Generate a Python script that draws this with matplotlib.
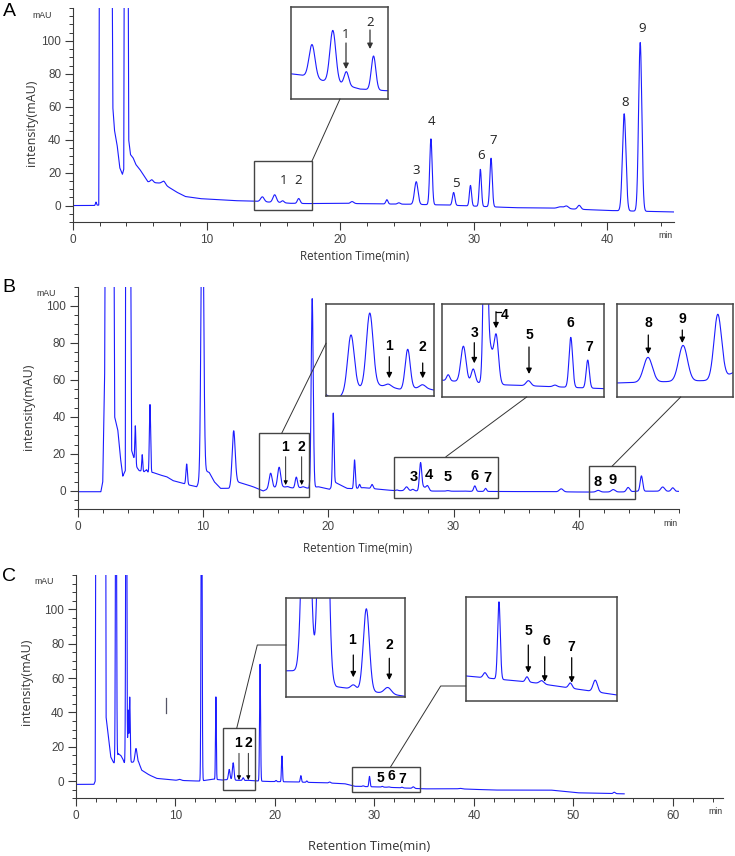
import numpy as np
import matplotlib
matplotlib.use('Agg')
import matplotlib.pyplot as plt
from matplotlib.patches import Rectangle, FancyArrowPatch
from matplotlib.lines import Line2D
from matplotlib.ticker import MultipleLocator

plt.rcParams['font.family'] = ['Liberation Sans', 'DejaVu Sans']

# ---------------- data ----------------
# Panel A: baseline envelope knots (min, mAU) and peak table (time, height, width)
A_base_t = [0, 1.6, 1.93, 2.02, 2.85, 2.98, 3.1, 3.3, 3.5, 3.7, 3.8, 3.88, 4.08, 4.17, 4.3, 4.5,
            4.7, 5.0, 5.4, 5.6, 6.2, 6.6, 7.1, 7.4, 7.8, 8.4, 9.5, 12.0, 13.25, 14.0, 14.65, 15.5,
            16.3, 17.5, 20.0, 25.0, 28.0, 33.0, 36.0, 40.0, 45.0]
A_base_v = [0, 0, 0.3, 300, 300, 60, 46, 37, 23, 19, 22, 300, 300, 40, 31, 29,
            25, 22, 17, 14.5, 13.8, 13.6, 11.5, 10, 8, 5.5, 4.2, 3.0, 2.7, 2.5, 2.1, 1.8,
            1.35, 1.2, 1.3, 0.8, 0.3, -1.3, -1.6, -3.0, -3.9]
A_peak_t = [1.72, 5.9, 6.8, 14.18, 15.1, 15.7, 16.9, 20.9, 23.5, 24.4, 25.7, 26.8, 28.5,
            29.76, 30.5, 31.3, 36.5, 36.95, 37.9, 41.27, 42.47]
A_peak_h = [2.0, 1.5, 2.0, 2.9, 4.6, 1.2, 3.0, 1.2, 2.6, 0.8, 13.8, 40.0, 7.8,
            12.5, 22.5, 29.5, 1.0, 1.6, 2.4, 59.0, 102.5]
A_peak_w = [0.04, 0.1, 0.12, 0.13, 0.13, 0.1, 0.1, 0.12, 0.08, 0.1, 0.13, 0.09, 0.09,
            0.08, 0.08, 0.09, 0.2, 0.15, 0.12, 0.13, 0.12]

# Panel B
B_base_t = [0, 1.85, 2.0, 2.15, 2.28, 2.8, 2.95, 3.2, 3.4, 3.6, 3.8, 3.86, 4.12, 4.3, 4.45,
            4.7, 4.9, 5.3, 5.5, 5.65, 6.0, 6.6, 7.1, 7.6, 8.4, 8.9, 9.5, 10.15, 10.5, 10.9,
            11.4, 12.1, 12.7, 13.2, 14.0, 14.8, 15.1, 15.7, 16.4, 16.9, 17.2, 17.7, 18.1,
            18.4, 19.2, 20.1, 20.6, 20.9, 21.5, 22.0, 22.8, 24.1, 25.2, 26.0, 28.3, 33.5,
            38.0, 40.5, 44.0, 44.5, 45.5, 48.0]
B_base_v = [-0.4, -0.4, 5, 60, 300, 300, 40, 33, 18.5, 8, 11, 300, 300, 22, 18.5,
            13, 11, 10.4, 11.5, 9.5, 10, 8.6, 7.7, 5.6, 4.1, 3.2, 2.3, 11, 10, 5,
            1.4, 1.4, 5, 4, 2.3, 0.0, 0.8, 1.8, 2.2, 1.9, 1.6, 1.8, 1.8,
            1.5, 2.3, 0.9, 4.5, 3.5, 1.4, 1.2, 1.8, 0.9, 0.22, 0.15, -0.05, -0.28,
            -0.4, -0.6, -0.5, -0.2, -0.1, -0.2]
B_peak_t = [4.6, 5.15, 5.77, 8.7, 9.95, 12.45, 15.4, 16.08, 16.75, 17.45, 17.98, 18.72,
            20.4, 22.1, 22.5, 23.5, 25.48, 26.25, 26.75, 27.37, 27.6, 27.91, 29.55, 30.9,
            31.7, 32.56, 38.6, 41.55, 42.75, 43.94, 45.0, 46.7, 47.5]
B_peak_h = [20, 9, 37, 11, 170, 29, 8.3, 10.8, 0.4, 5.8, 0.5, 102,
            39, 15.5, 2, 2.2, 0.35, 2.1, 0.8, 15.0, 2.0, 2.9, 0.3, 0.1,
            2.95, 1.65, 1.6, 0.9, 1.3, 2.4, 8.3, 2.3, 1.9]
B_peak_w = [0.04, 0.04, 0.05, 0.06, 0.1, 0.12, 0.12, 0.12, 0.1, 0.09, 0.1, 0.08,
            0.06, 0.06, 0.06, 0.08, 0.08, 0.13, 0.1, 0.09, 0.12, 0.12, 0.12, 0.1,
            0.09, 0.08, 0.15, 0.15, 0.15, 0.13, 0.1, 0.15, 0.12]

# Panel C
C_base_t = [0, 1.8, 1.93, 2.03, 2.95, 3.02, 3.25, 3.5, 3.75, 3.92, 4.25, 4.5, 4.7, 4.85,
            5.6, 5.8, 6.3, 6.6, 7.1, 7.4, 8.1, 10.0, 12.5, 13.8, 14.7, 14.9, 15.6, 16.1,
            17.7, 18.2, 19.2, 22.0, 25.0, 27.0, 28.0, 31.0, 35.0, 38.6, 42.0, 47.7, 50.4, 55.1]
C_base_v = [-1.9, -1.9, 0, 300, 300, 37.5, 26, 14, 11, 10, 16, 15, 13, 10.7,
            11, 11, 11, 6.4, 4.5, 3.5, 1.6, 0.5, 0.0, 1.2, 0.6, 0.8, 0.8, 0.5,
            0.32, 0.1, -0.2, -0.5, -1.0, -1.5, -3.0, -3.5, -4.5, -4.5, -5.2, -5.2, -6.8, -7.4]
C_peak_t = [4.02, 5.05, 5.25, 5.4, 6.03, 10.4, 12.62, 14.06, 15.4, 15.8, 16.5, 16.8, 17.3,
            18.5, 20.1, 20.7, 22.6, 23.2, 25.5, 28.86, 29.5, 30.78, 31.45, 32.76, 33.9,
            38.6, 54.1]
C_peak_h = [250, 250, 30, 38, 8, 0.6, 220, 48, 6, 10, 0.08, 1.55, 0.12,
            68, 0.7, 15, 3.8, 0.8, 0.6, 0.4, 6.0, 0.4, 0.25, 0.4, 0.9,
            0.3, 0.8]
C_peak_w = [0.05, 0.05, 0.04, 0.05, 0.1, 0.15, 0.05, 0.04, 0.08, 0.08, 0.06, 0.07, 0.08,
            0.05, 0.06, 0.05, 0.06, 0.06, 0.1, 0.08, 0.06, 0.07, 0.1, 0.08, 0.1,
            0.15, 0.1]

Y_TICKS = [0, 20, 40, 60, 80, 100]
A_XTICKS = [0, 10, 20, 30, 40]
B_XTICKS = [0, 10, 20, 30, 40]
C_XTICKS = [0, 10, 20, 30, 40, 50, 60]

# ---------------- helpers ----------------
W, H = 735, 856
fig = plt.figure(figsize=(W / 100, H / 100), dpi=100)
BLUE = '#1c1cff'
DARK = '#3a3a3a'


def fp(x, y):
    return (x / W, 1 - y / H)


def rect(l, t, r, b):
    return [l / W, 1 - b / H, (r - l) / W, (b - t) / H]


def build(bt, bv, pt, ph, pw, t_end):
    t = np.arange(0, t_end, 0.004)
    y = np.interp(t, bt, bv)
    for c, h, w in zip(pt, ph, pw):
        y = y + h * np.exp(-0.5 * ((t - c) / w) ** 2)
    return t, y


def main_axes(r, xmax, ymin, ymax, xticks):
    ax = fig.add_axes(r)
    ax.set_xlim(0, xmax)
    ax.set_ylim(ymin, ymax)
    for s in ['top', 'right']:
        ax.spines[s].set_visible(False)
    for s in ['left', 'bottom']:
        ax.spines[s].set_color(DARK)
        ax.spines[s].set_linewidth(0.8)
    ax.set_xticks(xticks)
    ax.set_yticks(Y_TICKS)
    ax.xaxis.set_minor_locator(MultipleLocator(2))
    ax.yaxis.set_minor_locator(MultipleLocator(5))
    ax.tick_params(which='major', length=6, width=0.8, color=DARK, labelsize=8.5,
                   labelcolor='#444444', pad=2.5)
    ax.tick_params(which='minor', length=3, width=0.7, color=DARK)
    ax.patch.set_alpha(0)
    return ax


def inset(r, t, y, xl, yl):
    ax = fig.add_axes(r)
    ax.plot(t, y, color=BLUE, lw=0.8)
    ax.set_xlim(xl)
    ax.set_ylim(yl)
    ax.set_xticks([])
    ax.set_yticks([])
    for s in ax.spines.values():
        s.set_color('#444444')
        s.set_linewidth(1.1)
    return ax


def region(l, t, r, b):
    fig.add_artist(Rectangle(fp(l, b), (r - l) / W, (b - t) / H, transform=fig.transFigure,
                             fill=False, ec='#444444', lw=1.0))


def connector(xs, ys):
    fig.add_artist(Line2D([x / W for x in xs], [1 - y / H for y in ys],
                          transform=fig.transFigure, color='#333333', lw=0.7))


def arrow(x, y0, y1, lw=0.9, ms=8, color='black'):
    fig.add_artist(FancyArrowPatch(fp(x, y0), fp(x, y1), transform=fig.transFigure,
                                   arrowstyle='-|>', mutation_scale=ms, lw=lw, color=color,
                                   shrinkA=0, shrinkB=0))


def label(x, y, s, size=10, bold=True, color='black', family=None):
    kw = {}
    if family:
        kw['family'] = family
    fig.text(x / W, 1 - y / H, s, ha='center', va='center', fontsize=size,
             fontweight='bold' if bold else 'normal', color=color, **kw)


def panel_text(letter, lx, ly, mx, my, minx, miny, ylx, yly, xlx, xly, xlsize):
    label(lx, ly, letter, size=14, bold=False, color='black')
    label(mx, my, 'mAU', size=6.3, bold=False, color='#333333')
    label(minx, miny, 'min', size=6.3, bold=False, color='#333333')
    fig.text(ylx / W, 1 - yly / H, 'intensity(mAU)', rotation=90, ha='center', va='center',
             fontsize=9, family=['Open Sans', 'DejaVu Sans'], color='#333333')
    fig.text(xlx / W, 1 - xly / H, 'Retention Time(min)', ha='center', va='center',
             fontsize=xlsize, family=['Open Sans', 'DejaVu Sans'], color='#333333')


# ---------------- Panel A ----------------
tA, yA = build(A_base_t, A_base_v, A_peak_t, A_peak_h, A_peak_w, 45.0)
axA = main_axes(rect(73, 8, 674, 222), 45, -10, 120, A_XTICKS)
axA.plot(tA, yA, color=BLUE, lw=0.8)
panel_text('A', 9, 12, 42.5, 15, 665.5, 235, 31.7, 123, 355, 257, 8.3)
region(254, 161, 312, 210)
connector([312, 340], [161, 99])
inset(rect(291, 6.7, 388, 99), tA, yA, (13.25, 17.54), (0.47, 8.64))
for s, x, y in [('1', 283.3, 180), ('2', 297.7, 180), ('3', 416, 170.7), ('4', 431.7, 121.7),
                ('5', 455.7, 183.3), ('6', 481, 155.7), ('7', 493.3, 140.7), ('8', 625, 102.7),
                ('9', 641.7, 28.3)]:
    label(x, y, s, size=9.5, bold=False, color='#222222', family=['Open Sans', 'DejaVu Sans'])
label(346, 34, '1', size=9.5, bold=False, color='#222222', family=['Open Sans', 'DejaVu Sans'])
label(370, 22, '2', size=9.5, bold=False, color='#222222', family=['Open Sans', 'DejaVu Sans'])
arrow(346, 43, 69, lw=0.9, ms=8, color='#333333')
arrow(370, 30, 49, lw=0.9, ms=8, color='#333333')

# ---------------- Panel B ----------------
tB, yB = build(B_base_t, B_base_v, B_peak_t, B_peak_h, B_peak_w, 48.0)
axB = main_axes(rect(77.7, 287.2, 679, 509.5), 48, -10, 110, B_XTICKS)
axB.plot(tB, yB, color=BLUE, lw=0.8)
panel_text('B', 8.5, 287.5, 46, 293, 670, 524, 28.3, 406.7, 358, 548, 8.3)
region(259.3, 433.3, 308.7, 496.7)
region(394.3, 456.7, 497.7, 498.3)
region(588.7, 466, 635, 499.3)
connector([281.7, 326], [433.3, 343.3])
connector([446, 526.7], [456.7, 397])
connector([612.3, 680.7], [466, 397])
inset(rect(326, 304.3, 434, 396.3), tB, yB, (14.5, 18.4), (0.6, 14.1))
inset(rect(442.3, 304.3, 604.3, 396.7), tB, yB, (25.18, 33.4), (-0.75, 4.7))
inset(rect(616.7, 304.3, 733.3, 396.7), tB, yB, (40.48, 44.47), (-1.1, 2.26))
# main labels
label(285, 446.7, '1')
label(301.7, 446.7, '2')
arrow(285.7, 456.7, 485, lw=0.6, ms=6)
arrow(301.7, 456.7, 485, lw=0.6, ms=6)
for s, x, y in [('3', 413.3, 477.3), ('4', 429, 475), ('5', 447.7, 477.3), ('6', 475, 475.7),
                ('7', 487.3, 478.3), ('8', 597.7, 482.3), ('9', 612.3, 480)]:
    label(x, y, s, size=10.5)
# inset labels
label(389.3, 346, '1')
arrow(389.3, 356.7, 378.3)
label(422.7, 346.7, '2')
arrow(422.7, 363, 378.3)
label(474.3, 332.7, '3')
arrow(474.3, 342.7, 363.3)
label(505, 315, '4')
arrow(496, 311.7, 328.3)
fig.add_artist(Line2D([496 / W, 500.5 / W], [1 - 311.7 / H, 1 - 311.7 / H],
                      transform=fig.transFigure, color='black', lw=0.9))
label(529, 335, '5')
arrow(529, 347, 374)
label(570, 322.7, '6')
label(589.3, 346.7, '7')
label(648.3, 323.3, '8')
arrow(648.3, 335, 354)
label(682.3, 319.3, '9')
arrow(682.3, 330, 343)

# ---------------- Panel C ----------------
tC, yC = build(C_base_t, C_base_v, C_peak_t, C_peak_h, C_peak_w, 55.1)
axC = main_axes(rect(76, 575, 722.7, 798.3), 65, -10, 120, C_XTICKS)
axC.plot(tC, yC, color=BLUE, lw=0.8)
panel_text('C', 9, 576.5, 44, 581.5, 715, 811.7, 26.7, 681.7, 369, 847, 9.3)
fig.add_artist(Line2D([165.7 / W, 165.7 / W], [1 - 698 / H, 1 - 713 / H],
                      transform=fig.transFigure, color='#555566', lw=0.9))
region(222.7, 728.3, 255.3, 790)
region(351.7, 766.7, 420.3, 792.3)
connector([236.7, 257.3, 286], [728.3, 645, 645])
connector([390.7, 440.7, 465.7], [766.7, 686, 686])
inset(rect(286, 597.7, 405, 697.3), tC, yC, (14.93, 17.7), (0.30, 2.18))
inset(rect(465.7, 597.3, 616.7, 701), tC, yC, (27.98, 34.88), (-4.94, 3.1))
label(237.7, 742.7, '1')
label(248.3, 742.7, '2')
arrow(239, 753.3, 780, lw=0.6, ms=6)
arrow(248.3, 753.3, 780, lw=0.6, ms=6)
label(380, 778.3, '5')
label(391.7, 776, '6')
label(402.7, 779, '7')
label(352.3, 640, '1')
arrow(353.3, 655, 677.3)
label(389.3, 645, '2')
arrow(389.3, 658.3, 680)
label(528.3, 630.7, '5')
arrow(528.3, 645, 672.7)
label(546.7, 641, '6')
arrow(544.7, 656.7, 681.7)
label(571.7, 646.7, '7')
arrow(571.7, 657.7, 682.7)

fig.savefig('out.png', dpi=100)
